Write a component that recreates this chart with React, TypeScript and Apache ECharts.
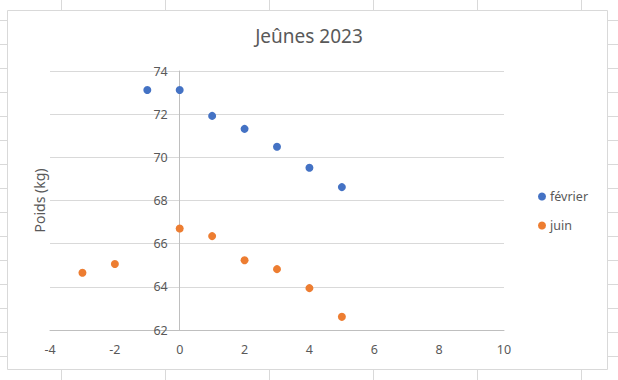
import React, { useEffect, useRef } from "react";
import * as echarts from "echarts";

const title = "Jeûnes 2023";
const yAxisTitle = "Poids (kg)";
const seriesNames = ["février", "juin"];
const fevrierX = [-1, 0, 1, 2, 3, 4, 5];
const fevrierY = [73.12, 73.12, 71.92, 71.32, 70.49, 69.52, 68.62];
const juinX = [-3, -2, 0, 1, 2, 3, 4, 5];
const juinY = [64.65, 65.06, 66.7, 66.35, 65.23, 64.82, 63.94, 62.61];
const xMin = -4, xMax = 10, xStep = 2;
const yMin = 62, yMax = 74, yStep = 2;

const TEXT = "#595959";
const GRID = "#d9d9d9";
const AXIS = "#bfbfbf";
const FONT = "'Noto Sans', 'Open Sans', sans-serif";

const GRID_LEFT = 50;
const GRID_RIGHT = 114;
const W = 618;
// y axis crosses the x axis at x = 0
const yAxisShift = ((0 - xMin) / (xMax - xMin)) * (W - GRID_LEFT - GRID_RIGHT);

function sheetLines() {
  const els: any[] = [];
  const style = { stroke: GRID, lineWidth: 1 };
  [61.5, 165.5, 269.5, 373.5, 477.5, 581.5].forEach((x) => {
    els.push({ type: "line", shape: { x1: x, y1: 0, x2: x, y2: 10 }, style, silent: true });
    els.push({ type: "line", shape: { x1: x, y1: 370, x2: x, y2: 380 }, style, silent: true });
  });
  for (let y = 20.5; y < 380; y += 24) {
    els.push({ type: "line", shape: { x1: 0, y1: y, x2: 7, y2: y }, style, silent: true });
    els.push({ type: "line", shape: { x1: 608, y1: y, x2: 618, y2: y }, style, silent: true });
  }
  els.push({
    type: "rect",
    shape: { x: 7.5, y: 10.5, width: 600, height: 359 },
    style: { fill: "none", stroke: GRID, lineWidth: 1 },
    silent: true,
  });
  return els;
}

export default function App() {
  const ref = useRef<HTMLDivElement>(null);
  useEffect(() => {
    if (!ref.current) return;
    const chart = echarts.init(ref.current, undefined, { renderer: "svg" });
    chart.setOption({
      animation: false,
      backgroundColor: "#ffffff",
      textStyle: { fontFamily: FONT },
      title: {
        text: title,
        left: "center",
        top: 26,
        padding: 0,
        textStyle: { fontFamily: FONT, fontSize: 19, fontWeight: "normal", color: TEXT },
      },
      graphic: sheetLines(),
      legend: {
        orient: "vertical",
        left: 538,
        top: 190,
        padding: 0,
        itemGap: 16,
        itemWidth: 8,
        itemHeight: 8,
        icon: "circle",
        data: seriesNames,
        textStyle: { fontFamily: FONT, fontSize: 12.5, color: TEXT, padding: [0, 0, 0, -1] },
      },
      grid: {
        left: GRID_LEFT,
        right: GRID_RIGHT,
        top: 71,
        bottom: 50,
        containLabel: false,
        outerBoundsMode: "none",
      },
      xAxis: {
        type: "value",
        min: xMin,
        max: xMax,
        interval: xStep,
        axisLine: { show: true, onZero: false, lineStyle: { color: AXIS } },
        axisTick: { show: false },
        splitLine: { show: false },
        axisLabel: { color: TEXT, fontSize: 12.5, fontFamily: FONT, margin: 13 },
      },
      yAxis: {
        type: "value",
        min: yMin,
        max: yMax,
        interval: yStep,
        offset: -yAxisShift,
        name: yAxisTitle,
        nameLocation: "middle",
        nameRotate: 90,
        nameGap: 133,
        nameTextStyle: { color: TEXT, fontSize: 14, fontFamily: FONT },
        axisLine: { show: true, onZero: false, lineStyle: { color: AXIS } },
        axisTick: { show: false },
        splitLine: { show: true, lineStyle: { color: GRID } },
        axisLabel: { color: TEXT, fontSize: 12.5, fontFamily: FONT, margin: 12 },
      },
      series: [
        {
          name: seriesNames[0],
          type: "scatter",
          symbolSize: 8,
          itemStyle: { color: "#4472C4", opacity: 1 },
          data: fevrierX.map((x, i) => [x, fevrierY[i]]),
        },
        {
          name: seriesNames[1],
          type: "scatter",
          symbolSize: 8,
          itemStyle: { color: "#ED7D31", opacity: 1 },
          data: juinX.map((x, i) => [x, juinY[i]]),
        },
      ],
    });
    return () => chart.dispose();
  }, []);
  return (
    <div
      ref={ref}
      style={{ position: "fixed", left: 0, top: 0, width: 618, height: 380 }}
    />
  );
}
